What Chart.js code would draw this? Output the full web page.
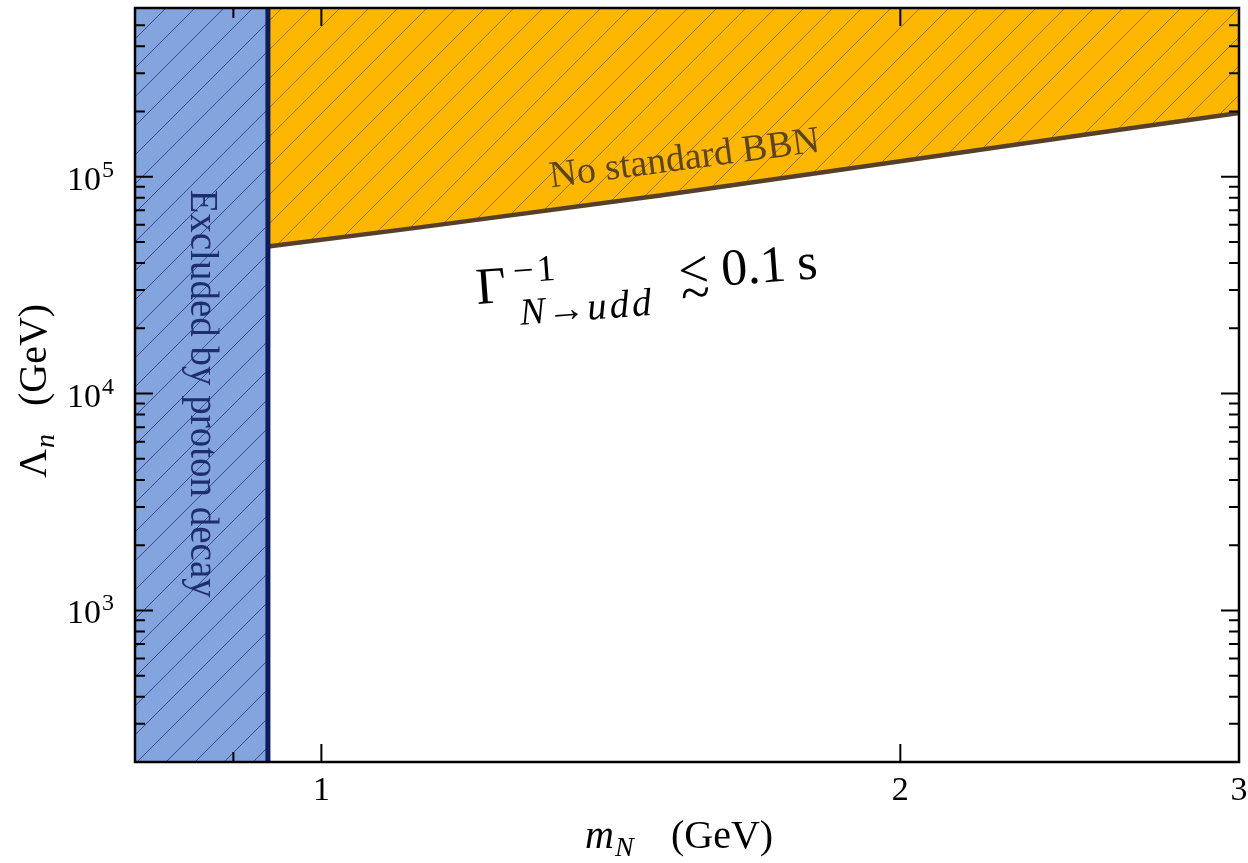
<!DOCTYPE html>
<html>
<head>
<meta charset="utf-8">
<script src="https://cdn.jsdelivr.net/npm/chart.js@4.4.1/dist/chart.umd.min.js"></script>
<style>
  html, body { margin: 0; padding: 0; background: #fff; }
</style>
</head>
<body>
<canvas id="limits" width="1248" height="863"></canvas>
<script>
// sterile neutron N: proton-decay exclusion and BBN lifetime bound
var protonMass = 0.938;
var massRange = [0.8, 3];
var lambdaRange = [200, 6e5];
var bbnMass = [0.938, 1.125, 1.5, 2.0, 2.54, 3.0];
var bbnLambda = [4.77e4, 5.84e4, 8.2e4, 1.18e5, 1.6e5, 1.97e5];
var xTicks = [1, 2, 3];
var xTickLabels = ["1", "2", "3"];
var xMinorTicks = [0.9];
var yTicks = [1e3, 1e4, 1e5];
var yTickExponents = ["3", "4", "5"];
var yMinorMantissa = [2, 3, 4, 5, 6, 7, 8, 9];
var yMinorDecades = [1e2, 1e3, 1e4, 1e5];

var serif = '"Liberation Serif", "DejaVu Serif", serif';
var canvas = document.getElementById("limits");
var ctx0 = canvas.getContext("2d");

function hatch(fill, line) {
  var s = 29, c = document.createElement("canvas");
  c.width = s;
  c.height = s;
  var g = c.getContext("2d");
  g.fillStyle = fill;
  g.fillRect(0, 0, s, s);
  g.strokeStyle = line;
  g.lineWidth = 1;
  g.beginPath();
  g.moveTo(-2, s + 2); g.lineTo(s + 2, -2);
  g.moveTo(-2, 2); g.lineTo(2, -2);
  g.moveTo(s - 2, s + 2); g.lineTo(s + 2, s - 2);
  g.stroke();
  return ctx0.createPattern(c, "repeat");
}

var blueHatch = hatch("#84a4de", "rgba(20,40,110,0.7)");
var orangeHatch = hatch("#fdb700", "rgba(110,75,10,0.65)");

// draw a run of [text, font, gap] pieces one after another, returns end x
function run(ctx, pieces, x, y) {
  pieces.forEach(function (p) {
    ctx.font = p[1];
    ctx.fillText(p[0], x, y);
    x += ctx.measureText(p[0]).width + (p[2] || 0);
  });
  return x;
}

// Gamma^{-1}_{N->udd} <~ 0.1 s, on a slightly tilted baseline
function drawRate(ctx, x, y) {
  ctx.save();
  ctx.translate(x, y);
  ctx.rotate(-4.3 * Math.PI / 180);
  ctx.fillStyle = "#000";
  ctx.textAlign = "left";
  ctx.textBaseline = "alphabetic";
  ctx.font = "52px " + serif;
  ctx.fillText("\u0393", 0, 0);
  run(ctx, [["\u2212", "37px " + serif, 3], ["1", "37px " + serif]], 38, -18);
  run(ctx, [
    ["N", "italic 38px " + serif, 2],
    ["\u2192", "38px " + serif, 2],
    ["u", "italic 39px " + serif, 3],
    ["d", "italic 39px " + serif, 3],
    ["d", "italic 39px " + serif]
  ], 42, 24);
  ctx.font = "54px " + serif;
  ctx.fillText("<", 203, 0);
  ctx.fillText("~", 204, 23);
  ctx.font = "52px " + serif;
  ctx.fillText("0.1", 246, 0);
  ctx.fillText("s", 322, 0);
  ctx.restore();
}

var axesPlugin = {
  id: "axesPlugin",
  afterDatasetsDraw: function (chart) {
    var ctx = chart.ctx, xs = chart.scales.x, ys = chart.scales.y;
    ctx.save();
    ctx.translate(xs.getPixelForValue(1.545), ys.getPixelForValue(1.2e5));
    ctx.rotate(-7.6 * Math.PI / 180);
    ctx.font = "38px " + serif;
    ctx.fillStyle = "#5a4424";
    ctx.textAlign = "center";
    ctx.textBaseline = "middle";
    ctx.fillText("No standard BBN", 0, 0);
    ctx.restore();

    ctx.save();
    ctx.translate(xs.getPixelForValue(0.855), ys.getPixelForValue(1e4));
    ctx.rotate(Math.PI / 2);
    ctx.font = "39px " + serif;
    ctx.fillStyle = "#1d2d6e";
    ctx.textAlign = "center";
    ctx.textBaseline = "alphabetic";
    ctx.fillText("Excluded by proton decay", 0, 0);
    ctx.restore();

    drawRate(ctx, xs.getPixelForValue(1.205), ys.getPixelForValue(2.59e4));
  },
  afterDraw: function (chart) {
    var ctx = chart.ctx, a = chart.chartArea, xs = chart.scales.x, ys = chart.scales.y;
    ctx.save();
    ctx.strokeStyle = "#000";
    ctx.lineWidth = 2;
    ctx.beginPath();
    xTicks.forEach(function (v) {
      var px = xs.getPixelForValue(v);
      ctx.moveTo(px, a.bottom); ctx.lineTo(px, a.bottom - 18);
      ctx.moveTo(px, a.top); ctx.lineTo(px, a.top + 18);
    });
    xMinorTicks.forEach(function (v) {
      var px = xs.getPixelForValue(v);
      ctx.moveTo(px, a.bottom); ctx.lineTo(px, a.bottom - 10);
      ctx.moveTo(px, a.top); ctx.lineTo(px, a.top + 10);
    });
    yTicks.forEach(function (v) {
      var py = ys.getPixelForValue(v);
      ctx.moveTo(a.left, py); ctx.lineTo(a.left + 18, py);
      ctx.moveTo(a.right, py); ctx.lineTo(a.right - 18, py);
    });
    yMinorDecades.forEach(function (d) {
      yMinorMantissa.forEach(function (m) {
        var v = m * d;
        if (v <= lambdaRange[0] || v >= lambdaRange[1]) return;
        var py = ys.getPixelForValue(v);
        ctx.moveTo(a.left, py); ctx.lineTo(a.left + 10, py);
        ctx.moveTo(a.right, py); ctx.lineTo(a.right - 10, py);
      });
    });
    ctx.stroke();

    ctx.lineWidth = 2.5;
    ctx.strokeRect(a.left, a.top, a.right - a.left, a.bottom - a.top);

    // tick labels
    ctx.fillStyle = "#000";
    ctx.font = "34px " + serif;
    ctx.textAlign = "center";
    ctx.textBaseline = "alphabetic";
    xTicks.forEach(function (v, i) {
      ctx.fillText(xTickLabels[i], xs.getPixelForValue(v), a.bottom + 38);
    });
    yTicks.forEach(function (v, i) {
      var py = ys.getPixelForValue(v);
      ctx.font = "34px " + serif;
      ctx.textAlign = "right";
      ctx.fillText("10", 101, py + 13);
      ctx.font = "24px " + serif;
      ctx.textAlign = "left";
      ctx.fillText(yTickExponents[i], 102, py);
    });

    // x title
    var tx = (a.left + a.right) / 2 - 102, ty = a.bottom + 86;
    ctx.textAlign = "left";
    ctx.font = "italic 40px " + serif;
    ctx.fillText("m", tx, ty);
    var mw = ctx.measureText("m").width;
    ctx.font = "italic 28px " + serif;
    ctx.fillText("N", tx + mw + 1, ty + 8);
    ctx.font = "40px " + serif;
    ctx.fillText("(GeV)", tx + 86, ty);

    // y title
    ctx.save();
    ctx.translate(46, (a.top + a.bottom) / 2 + 93);
    ctx.rotate(-Math.PI / 2);
    ctx.font = "40px " + serif;
    ctx.fillText("\u039B", 0, 0);
    var lw = ctx.measureText("\u039B").width;
    ctx.font = "italic 28px " + serif;
    ctx.fillText("n", lw + 1, 8);
    ctx.font = "40px " + serif;
    ctx.fillText("(GeV)", 72, 0);
    ctx.restore();
    ctx.restore();
  }
};

var bbnPoints = bbnMass.map(function (m, i) { return { x: m, y: bbnLambda[i] }; });

new Chart(canvas, {
  type: "scatter",
  data: {
    datasets: [
      {
        label: "proton edge",
        data: [{ x: protonMass, y: lambdaRange[0] }, { x: protonMass, y: lambdaRange[1] }],
        showLine: true,
        borderColor: "#0c1d5c",
        borderWidth: 5,
        pointRadius: 0,
        fill: false,
        order: 0
      },
      {
        label: "BBN",
        data: bbnPoints,
        showLine: true,
        borderColor: "#56402a",
        borderWidth: 4.5,
        backgroundColor: orangeHatch,
        fill: "end",
        pointRadius: 0,
        order: 1
      },
      {
        label: "proton decay",
        data: [{ x: massRange[0], y: lambdaRange[1] }, { x: protonMass, y: lambdaRange[1] }],
        showLine: true,
        borderWidth: 0,
        borderColor: "rgba(0,0,0,0)",
        backgroundColor: blueHatch,
        fill: "start",
        pointRadius: 0,
        order: 2
      }
    ]
  },
  options: {
    responsive: false,
    animation: false,
    layout: { padding: { left: 135, right: 9, top: 8, bottom: 101 } },
    plugins: { legend: { display: false }, tooltip: { enabled: false } },
    scales: {
      x: { type: "logarithmic", min: massRange[0], max: massRange[1], display: false },
      y: { type: "logarithmic", min: lambdaRange[0], max: lambdaRange[1], display: false }
    }
  },
  plugins: [axesPlugin]
});
</script>
</body>
</html>
